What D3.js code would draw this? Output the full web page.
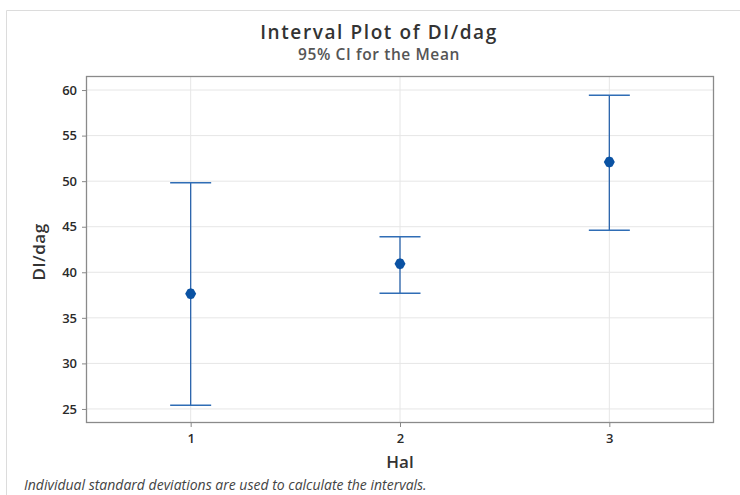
<!DOCTYPE html>
<html><head><meta charset="utf-8">
<script src="https://cdn.jsdelivr.net/npm/d3@7"></script>
<style>body{margin:0;background:#fff;}svg{display:block;font-family:"Open Sans",sans-serif;}</style>
</head><body>
<svg id="c" width="740" height="495"></svg>
<script>
const categories = ["1", "2", "3"];
const means = [37.65, 40.94, 52.1];
const lower = [25.4, 37.69, 44.6];
const upper = [49.83, 43.9, 59.42];
const yTicks = [25, 30, 35, 40, 45, 50, 55, 60];

const svg = d3.select("#c");
const L = 86, R = 714, T = 76, B = 423;
// outer border
svg.append("path").attr("d", "M6.5,495 V10.5 H740").attr("fill","none").attr("stroke","#dcdcdc");

const x = d3.scaleLinear().domain([0.5, 3.5]).range([L, R]);
const y = d3.scaleLinear().domain([23.46, 61.54]).range([B, T]);

// grid
const g = svg.append("g");
g.selectAll(".hg").data(yTicks).join("line")
  .attr("x1", L).attr("x2", R).attr("y1", d => y(d)).attr("y2", d => y(d))
  .attr("stroke", "#e6e6e6").attr("stroke-width", 1);
g.selectAll(".vg").data(categories).join("line")
  .attr("x1", (d,i) => x(i+1)).attr("x2", (d,i) => x(i+1)).attr("y1", T).attr("y2", B)
  .attr("stroke", "#e6e6e6").attr("stroke-width", 1);

// axes
const yAxis = d3.axisLeft(y).tickValues(yTicks).tickSize(4).tickPadding(5);
const ya = svg.append("g").attr("transform", `translate(${L},0)`).call(yAxis);
const xAxis = d3.axisBottom(x).tickValues([1,2,3]).tickFormat((d) => categories[d-1]).tickSize(4).tickPadding(7);
const xa = svg.append("g").attr("transform", `translate(0,${B})`).call(xAxis);
[ya, xa].forEach(a => {
  a.select(".domain").remove();
  a.selectAll(".tick line").attr("stroke", "#888");
  a.selectAll(".tick text").attr("fill", "#2a2a2a").attr("font-size", 13).attr("font-weight", 600)
    .attr("font-family", "'Open Sans',sans-serif");
});

// frame
svg.append("rect").attr("x", L+0.5).attr("y", T+0.5).attr("width", R-L-1).attr("height", B-T-1)
  .attr("fill", "none").attr("stroke", "#8a8a8a").attr("stroke-width", 1.3);

// intervals
const data = categories.map((c,i) => ({c, i, m: means[i], lo: lower[i], hi: upper[i]}));
const ig = svg.append("g");
ig.selectAll(".v").data(data).join("line")
  .attr("x1", d => x(d.i+1)).attr("x2", d => x(d.i+1))
  .attr("y1", d => y(d.hi)).attr("y2", d => y(d.lo))
  .attr("stroke", "#2a64ac").attr("stroke-width", 1.3);
const cap = 20.5;
["hi","lo"].forEach(k => {
  ig.selectAll(".cap"+k).data(data).join("line")
    .attr("x1", d => x(d.i+1)-cap).attr("x2", d => x(d.i+1)+cap)
    .attr("y1", d => y(d[k])).attr("y2", d => y(d[k]))
    .attr("stroke", "#2f6db5").attr("stroke-width", 1.5);
});
ig.selectAll(".pt").data(data).join("path")
  .attr("transform", d => `translate(${x(d.i+1)},${y(d.m)})`)
  .attr("d", "M0,-5.5 L3,-4.5 L5.5,0 L3,4.5 L0,5.5 L-3,4.5 L-5.5,0 L-3,-4.5 Z")
  .attr("fill", "#0a52a3");

// titles
svg.append("text").attr("x", 379).attr("y", 39).attr("text-anchor", "middle")
  .attr("font-size", 19).attr("font-weight", 600).attr("fill", "#333").attr("letter-spacing", 1.6)
  .text("Interval Plot of DI/dag");
svg.append("text").attr("x", 379).attr("y", 59.5).attr("text-anchor", "middle")
  .attr("font-size", 15.5).attr("font-weight", 600).attr("fill", "#555").attr("letter-spacing", 0.6)
  .text("95% CI for the Mean");
svg.append("text").attr("transform", "translate(45,252) rotate(-90)").attr("text-anchor", "middle")
  .attr("font-size", 17).attr("font-weight", 600).attr("fill", "#333").attr("letter-spacing", 0.5).text("DI/dag");
svg.append("text").attr("x", x(2)).attr("y", 468).attr("text-anchor", "middle")
  .attr("font-size", 17).attr("font-weight", 600).attr("fill", "#333").text("Hal");
svg.append("text").attr("x", 24).attr("y", 490)
  .attr("font-size", 14).attr("font-style", "italic").attr("fill", "#444")
  .text("Individual standard deviations are used to calculate the intervals.");
</script>
</body></html>
